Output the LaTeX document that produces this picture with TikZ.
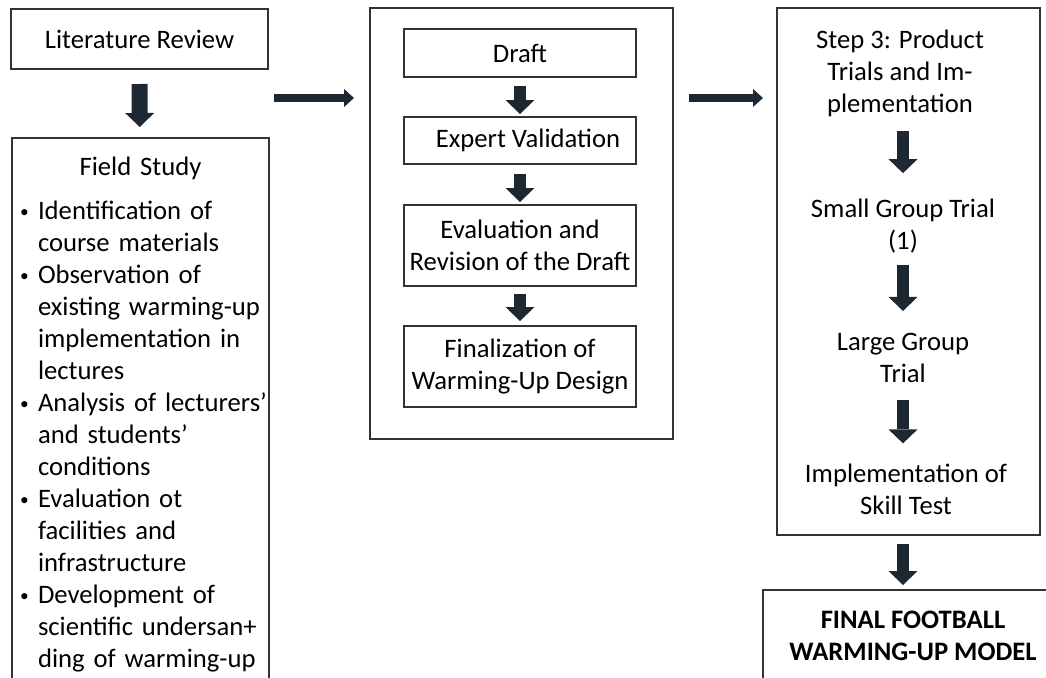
\documentclass[tikz,border=0pt]{standalone}
\usepackage{fontspec}
\setmainfont{Carlito}
\usetikzlibrary{arrows.meta}
\definecolor{arrowcol}{RGB}{30,40,51}
\definecolor{linecol}{RGB}{51,51,51}
\newcommand{\bxfont}    {\fontsize{20pt}{24pt}\selectfont}
\newcommand{\bul}       {\makebox[8.7pt][c]{\raisebox{1.75pt}{\scalebox{0.65}{\textbullet}}}}

\begin{document}
\begin{tikzpicture}[x=0.75pt,y=-0.75pt,
   box/.style={draw=linecol,line width=1.5pt,inner sep=0pt,align=center,font=\bxfont},
   txt/.style={inner sep=0pt,align=center,font=\bxfont},
   downarrow/.style={draw=arrowcol,line width=9pt,
      -{Triangle[width=21.75pt,length=10.5pt,line width=0pt]}},
   sidearrow/.style={draw=arrowcol,line width=6pt,
      -{Triangle[width=13.5pt,length=7.5pt,line width=0pt]}}]
   \useasboundingbox (0,0) rectangle (1046,678);
   \clip (0,0) rectangle (1046,678);
   \node[box,minimum width=192.75pt,minimum height=45pt] (lit) at (139.5,39) {Literature Review};
   \node[box,anchor=north west,align=left,text width=182.75pt,inner xsep=5pt,inner ysep=14.5pt]
      (field) at (11,137) {{\centering Field Study\par}\vspace{9pt}
      \begin{tabular}[t]{@{}l@{\hspace{5.8pt}}l@{}}
      \bul & Identification of\\
           & course materials\\
      \bul & Observation of\\
           & existing warming-up\\
           & implementation in\\
           & lectures\\
      \bul & Analysis of lecturers'\\
           & and students'\\
           & conditions\\
      \bul & Evaluation ot\\
           & facilities and\\
           & infrastructure\\
      \bul & Development of\\
           & scientific undersan+\\
           & ding of warming-up
      \end{tabular}};
   \node[box,minimum width=227.25pt,minimum height=323.25pt] (devbox) at (521.5,223.5) {};
   \node[box,minimum width=174pt,minimum height=36pt] (draft) at (520,53) {Draft};
   \node[box,minimum width=174pt,minimum height=35.25pt] (expert) at (520,140.5)
      {\hspace*{12pt}Expert Validation};
   \node[box,minimum width=174pt,minimum height=60.75pt] (evalrev) at (520,245.5)
      {Evaluation and\\Revision of the Draft};
   \node[box,minimum width=174pt,minimum height=60.75pt] (finaldes) at (520,366.5)
      {Finalization of\\Warming-Up Design};
   \node[box,minimum width=197.25pt,minimum height=395.25pt] (trialbox) at (908.5,271.5) {};
   \node[txt] (step)  at (900,73.5)  {Step 3: Product\\Trials and Im-\\plementation};
   \node[txt] (small) at (903,226.5) {Small Group Trial\\(1)};
   \node[txt] (large) at (903,358)   {Large Group\\Trial};
   \node[txt] (impl)  at (906,489)   {Implementation of\\Skill Test};
   \node[box,anchor=north west,minimum width=225pt,minimum height=69pt,font=\bxfont\bfseries]
      (model) at (762,589) {FINAL FOOTBALL\\WARMING-UP MODEL};
   \draw[downarrow,line width=12pt,shorten <=10.5pt,shorten >=7.5pt] (lit) -- (field);
   \draw[downarrow,shorten <=6pt,shorten >=1.5pt] (draft) -- (expert);
   \draw[downarrow,shorten <=6.75pt,shorten >=1.5pt] (expert) -- (evalrev);
   \draw[downarrow,shorten <=5.25pt,shorten >=3pt] (evalrev) -- (finaldes);
   \draw[downarrow,shorten <=10.5pt,shorten >=19.5pt] (step.south -| small) -- (small);
   \draw[downarrow,shorten <=8pt,shorten >=16.5pt] (small) -- (large);
   \draw[downarrow,shorten <=12.75pt,shorten >=15pt] (large) -- (large |- impl.north);
   \draw[downarrow,shorten <=6pt,shorten >=3pt] (large |- trialbox.south) -- (large |- model.north);
   \coordinate (harrow) at (0,98);
   \draw[sidearrow,shorten <=3.75pt,shorten >=11.25pt] (lit.east |- harrow) -- (devbox.west |- harrow);
   \draw[sidearrow,shorten <=11.25pt,shorten >=9.75pt] (devbox.east |- harrow) -- (trialbox.west |- harrow);
\end{tikzpicture}
\end{document}
